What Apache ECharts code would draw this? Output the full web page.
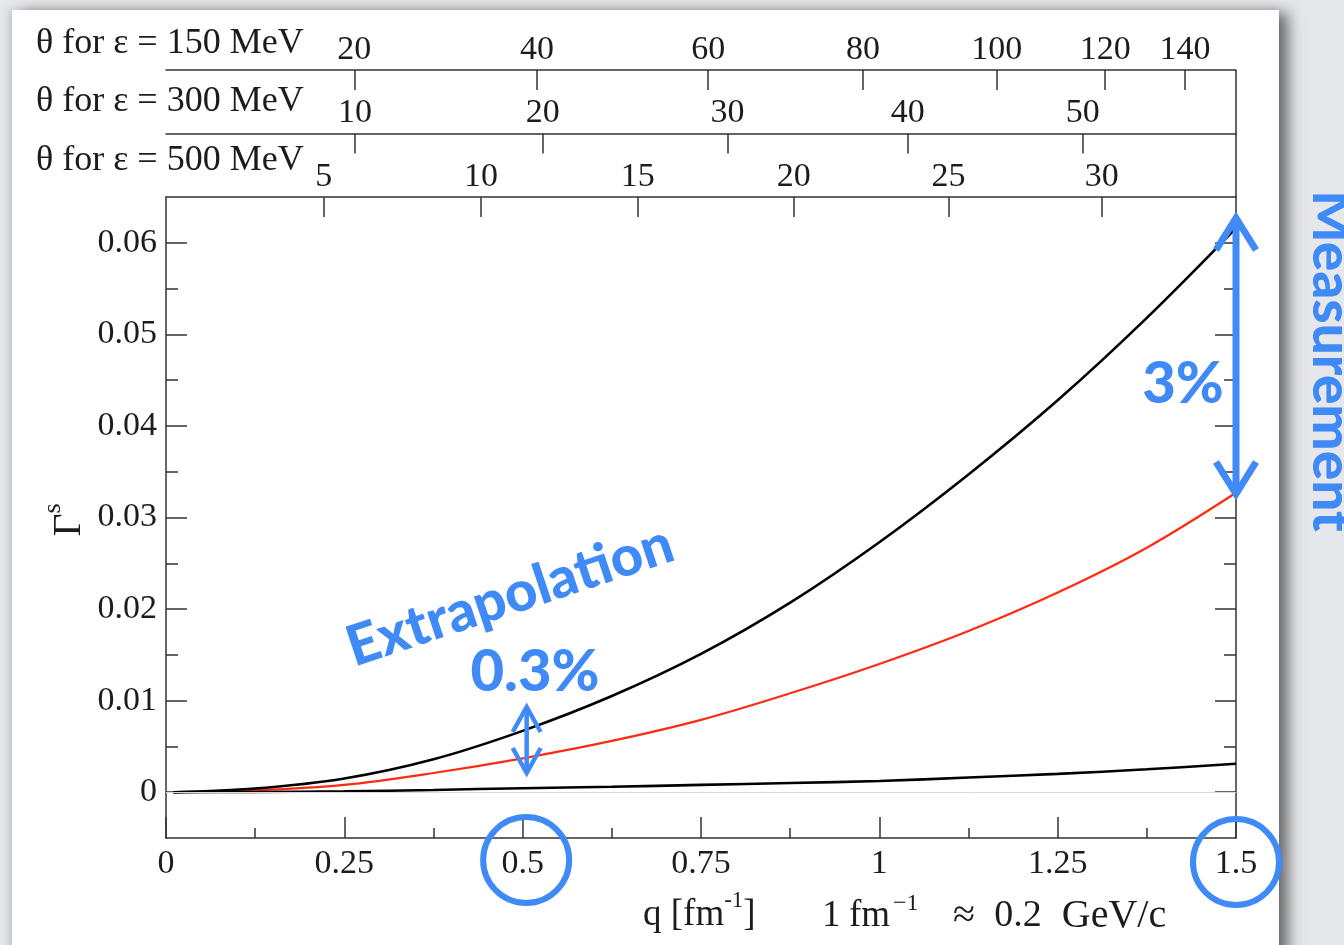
<!DOCTYPE html>
<html>
<head>
<meta charset="utf-8">
<script src="https://cdn.jsdelivr.net/npm/echarts@6/dist/echarts.min.js"></script>
<style>
  html, body { margin: 0; padding: 0; width: 1344px; height: 945px; overflow: hidden; background: #e6e7ea; }
  #sheet { position: absolute; left: 12px; top: 10px; width: 1267px; height: 1000px; background: #fff;
           box-shadow: 9px 3px 14px rgba(0,0,0,0.55), -3px 0 8px rgba(0,0,0,0.12); }
  #chart { position: absolute; left: 0; top: 0; width: 1344px; height: 945px; }
</style>
</head>
<body>
<div id="sheet"></div>
<div id="chart"></div>
<script>
// Momentum transfer q [fm^-1] and the three Γ^s curves
const qValues    = [0.01, 0.125, 0.25, 0.375, 0.5, 0.625, 0.75, 0.875, 1.0, 1.125, 1.25, 1.375, 1.5];
const gammaUpper = [0, 0.0004, 0.0015, 0.0036, 0.0067, 0.0105, 0.0151, 0.0207, 0.0273, 0.0347, 0.0428, 0.0518, 0.0616];
const gammaMid   = [0, 0.0002, 0.0008, 0.0021, 0.0037, 0.0056, 0.0079, 0.0108, 0.0140, 0.0176, 0.0218, 0.0267, 0.0327];
const gammaLower = [0, 0.00003, 0.0001, 0.00025, 0.00044, 0.0006, 0.0008, 0.001, 0.00122, 0.0016, 0.002, 0.0025, 0.0031];

// Axis ticks
const yMajorTicks = [0, 0.01, 0.02, 0.03, 0.04, 0.05, 0.06];
const yMinorTicks = [0.005, 0.015, 0.025, 0.035, 0.045, 0.055];
const theta150 = [20, 40, 60, 80, 100, 120, 140];
const theta300 = [10, 20, 30, 40, 50];
const theta500 = [5, 10, 15, 20, 25, 30];

// Scattering angle <-> momentum transfer: q = 2 (E / ħc) sin(θ/2)
const HBARC = 197.327; // MeV fm
const qOfTheta = (t, E) => 2 * (E / HBARC) * Math.sin(t * Math.PI / 360);
const thetaOfQ = (q, E) => 360 / Math.PI * Math.asin(q * HBARC / (2 * E));

const SERIF = "'Liberation Serif', 'Times New Roman', serif";
const SANS = "Lato, 'Open Sans', sans-serif";
const INK = '#1c1c1c';
const BLUE = '#408af7';
const axisLine = { color: '#333', width: 1.5 };
const tickFont = { fontFamily: SERIF, fontSize: 34, color: INK };

function thetaAxis(E, thetas, offset) {
  const qs = thetas.map(t => qOfTheta(t, E));
  return {
    type: 'value', gridIndex: 0, position: 'top', offset: offset, min: 0, max: 1.5,
    axisLine: { show: true, onZero: false, lineStyle: axisLine },
    axisTick: { show: true, inside: true, length: 20, customValues: qs, lineStyle: axisLine },
    axisLabel: Object.assign({ show: true, customValues: qs, margin: 3,
      formatter: v => String(Math.round(thetaOfQ(v, E))) }, tickFont),
    splitLine: { show: false }
  };
}

function yAxisOf(position, ticks, len, showLine, showLabel) {
  return {
    type: 'value', gridIndex: 0, position: position, min: -0.005, max: 0.065,
    axisLine: { show: showLine, onZero: false, lineStyle: axisLine },
    axisTick: { show: true, inside: true, length: len, customValues: ticks, lineStyle: axisLine },
    axisLabel: Object.assign({ show: showLabel, customValues: ticks, margin: 9,
      formatter: v => (v === 0 ? '0' : v.toFixed(2)) }, tickFont),
    splitLine: { show: false }
  };
}

const pairs = arr => qValues.map((q, i) => [q, arr[i]]);

const chart = echarts.init(document.getElementById('chart'), null, { renderer: 'canvas' });

chart.setOption({
  animation: false,
  backgroundColor: 'transparent',
  grid: { left: 166, top: 197, width: 1070, height: 641, containLabel: false, outerBoundsMode: 'none' },
  xAxis: [
    {
      type: 'value', gridIndex: 0, position: 'bottom', min: 0, max: 1.5, interval: 0.25,
      axisLine: { show: true, onZero: false, lineStyle: axisLine },
      axisTick: { show: true, inside: true, length: 21, lineStyle: axisLine },
      minorTick: { show: true, splitNumber: 2, length: 10, lineStyle: axisLine },
      axisLabel: Object.assign({ margin: 9 }, tickFont),
      splitLine: { show: false }, minorSplitLine: { show: false }
    },
    thetaAxis(500, theta500, 0),
    thetaAxis(300, theta300, 63.5),
    thetaAxis(150, theta150, 127)
  ],
  yAxis: [
    yAxisOf('left', yMajorTicks, 21, true, true),
    yAxisOf('left', yMinorTicks, 12, false, false),
    yAxisOf('right', yMajorTicks, 21, true, false),
    yAxisOf('right', yMinorTicks, 12, false, false)
  ],
  series: [
    {
      type: 'line', xAxisIndex: 0, yAxisIndex: 0, data: [], silent: true,
      markLine: { silent: true, symbol: 'none', label: { show: false },
        lineStyle: { color: '#d8d8d8', width: 1, type: 'solid' }, data: [{ yAxis: 0 }] }
    },
    {
      name: 'mid', type: 'line', xAxisIndex: 0, yAxisIndex: 0, data: pairs(gammaMid),
      smooth: 0.35, showSymbol: false, lineStyle: { color: '#ff2a12', width: 2.2 }
    },
    {
      name: 'lower', type: 'line', xAxisIndex: 0, yAxisIndex: 0, data: pairs(gammaLower),
      smooth: 0.35, showSymbol: false, lineStyle: { color: '#000', width: 2.6 }
    },
    {
      name: 'upper', type: 'line', xAxisIndex: 0, yAxisIndex: 0, data: pairs(gammaUpper),
      smooth: 0.35, showSymbol: false, lineStyle: { color: '#000', width: 2.6 }
    }
  ]
});

// Annotations placed relative to the plot's own coordinates
const P = (q, v) => chart.convertToPixel({ xAxisIndex: 0, yAxisIndex: 0 }, [q, v]);
const gTop = P(0, 0.065)[1];
const xRight = P(1.5, 0)[0];
const x05 = P(0.5, 0)[0];

function doubleArrow(x, y1, y2, dx, dy, w) {
  const ls = { stroke: BLUE, lineWidth: w, fill: null, lineCap: 'butt', lineJoin: 'miter' };
  return [
    { type: 'line', shape: { x1: x, y1: y1 + w * 0.6, x2: x, y2: y2 - w * 0.6 }, style: ls, z: 50 },
    { type: 'polyline', shape: { points: [[x - dx, y1 + dy], [x, y1], [x + dx, y1 + dy]] }, style: ls, z: 50 },
    { type: 'polyline', shape: { points: [[x - dx, y2 - dy], [x, y2], [x + dx, y2 - dy]] }, style: ls, z: 50 }
  ];
}

function txt(x, y, text, font, opts) {
  return Object.assign({
    type: 'text', x: x, y: y, z: 50,
    style: Object.assign({ text: text, font: font, fill: INK,
      align: 'left', verticalAlign: 'middle', textAlign: 'left', textVerticalAlign: 'middle' }, (opts && opts.style) || {})
  }, (opts && opts.el) || {});
}

const mid = { style: { align: 'center', textAlign: 'center' } };

const graphics = [
  // right frame continues up through the angle scales
  { type: 'line', shape: { x1: xRight, y1: gTop - 127, x2: xRight, y2: gTop }, style: { stroke: '#333', lineWidth: 1.5 }, z: 40 },

  txt(36, 44, 'θ for ε = 150 MeV', '36px ' + SERIF),
  txt(36, 102, 'θ for ε = 300 MeV', '36px ' + SERIF),
  txt(36, 161, 'θ for ε = 500 MeV', '36px ' + SERIF),

  // Γ^s axis title
  {
    type: 'text', x: 69, y: 520, rotation: Math.PI / 2, z: 50,
    style: { text: '{g|Γ}{s|s}', align: 'center', verticalAlign: 'middle', textAlign: 'center', textVerticalAlign: 'middle',
      rich: {
        g: { fontFamily: SERIF, fontSize: 40, lineHeight: 58, fill: INK, color: INK },
        s: { fontFamily: SERIF, fontSize: 26, lineHeight: 26, verticalAlign: 'top', fill: INK, color: INK }
      } }
  },

  // q axis title
  {
    type: 'text', x: 643, y: 915, z: 50,
    style: { text: '{a|q [fm}{s|-1}{a|]}', align: 'left', verticalAlign: 'middle', textAlign: 'left', textVerticalAlign: 'middle',
      rich: {
        a: { fontFamily: SERIF, fontSize: 37, lineHeight: 52, fill: INK, color: INK },
        s: { fontFamily: SERIF, fontSize: 23, lineHeight: 22, verticalAlign: 'top', fill: INK, color: INK }
      } }
  },
  // unit note: 1 fm^-1 ≈ 0.2 GeV/c
  txt(822, 916, '1', '37px ' + SERIF),
  txt(849, 916, 'fm', '37px ' + SERIF),
  txt(893, 904, '−1', '24px ' + SERIF),
  txt(964, 916, '≈', '40px ' + SERIF, mid),
  txt(1018, 916, '0.2', '38px ' + SERIF, mid),
  txt(1114, 916, 'GeV/c', '40px ' + SERIF, mid),

  // blue annotations
  { type: 'circle', shape: { cx: x05 + 3.5, cy: 860, r: 43 }, style: { stroke: BLUE, lineWidth: 6, fill: null }, z: 50 },
  { type: 'circle', shape: { cx: xRight, cy: 862, r: 43 }, style: { stroke: BLUE, lineWidth: 6, fill: null }, z: 50 },
  ...doubleArrow(x05 + 4, 707, 773, 14, 25, 4.5),
  ...doubleArrow(xRight, 218, 494, 20, 32, 7),

  txt(510, 596, 'Extrapolation', '900 56px ' + SANS, { style: { fill: BLUE, align: 'center', textAlign: 'center' }, el: { rotation: 18.4 * Math.PI / 180 } }),
  txt(535, 672, '0.3%', '900 58px ' + SANS, { style: { fill: BLUE, align: 'center', textAlign: 'center' } }),
  txt(1183, 384, '3%', '900 58px ' + SANS, { style: { fill: BLUE, align: 'center', textAlign: 'center' } }),
  txt(1331, 361, 'Measurement', '900 55px ' + SANS, { style: { fill: BLUE, align: 'center', textAlign: 'center' }, el: { rotation: -Math.PI / 2 } })
];

chart.setOption({ graphic: { elements: graphics } });
</script>
</body>
</html>
